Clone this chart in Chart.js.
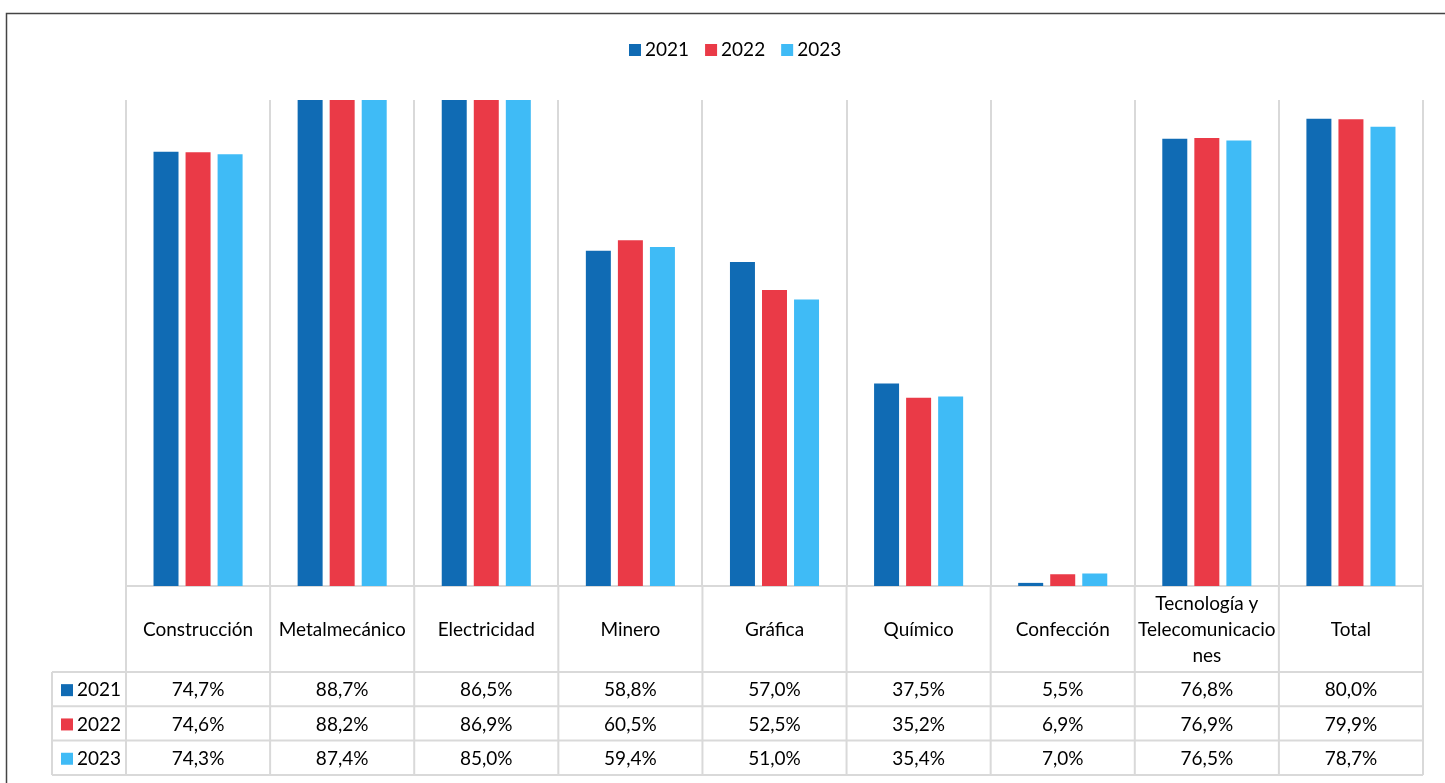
<!DOCTYPE html>
<html>
<head>
<meta charset="utf-8">
<script src="https://cdn.jsdelivr.net/npm/chart.js@4.4.1/dist/chart.umd.min.js"></script>
<style>
  html, body { margin: 0; padding: 0; background: #fff; }
  #wrap { width: 1445px; height: 783px; position: relative; }
</style>
</head>
<body>
<div id="wrap"><canvas id="chart"></canvas></div>
<script>
// data
const categories = ['Construcción', 'Metalmecánico', 'Electricidad', 'Minero', 'Gráfica',
  'Químico', 'Confección', ['Tecnología y', 'Telecomunicacio', 'nes'], 'Total'];
const years = ['2021', '2022', '2023'];
const values2021 = [74.7, 88.7, 86.5, 58.8, 57.0, 37.5, 5.5, 76.8, 80.0];
const values2022 = [74.6, 88.2, 86.9, 60.5, 52.5, 35.2, 6.9, 76.9, 79.9];
const values2023 = [74.3, 87.4, 85.0, 59.4, 51.0, 35.4, 7.0, 76.5, 78.7];
const colors = ['#106BB4', '#EA3A47', '#3FBBF6'];

const FONT = 'Lato, "Open Sans", sans-serif';
const gridColor = '#d9d9d9';

function fmt(v) {
  return v.toFixed(1).replace('.', ',') + '%';
}

// frame, legend and the data table under the bars
const tablePlugin = {
  id: 'dataTable',
  afterDraw(chart) {
    const ctx = chart.ctx;
    const x = chart.scales.x;
    const area = chart.chartArea;
    const n = categories.length;
    const cw = (x.right - x.left) / n;
    const headTop = area.bottom;
    const headBottom = 672;
    const rowH = 34.3;
    const tableBottom = headBottom + rowH * 3;
    const legLeft = 52;

    ctx.save();
    // outer frame
    ctx.strokeStyle = '#444';
    ctx.lineWidth = 1.5;
    ctx.strokeRect(6.5, 13.5, 1460, 800);

    // legend on top
    ctx.font = '19px ' + FONT;
    ctx.textBaseline = 'middle';
    ctx.textAlign = 'left';
    let lx = 629;
    years.forEach((y, i) => {
      ctx.fillStyle = colors[i];
      ctx.fillRect(lx, 44, 12, 12);
      ctx.fillStyle = '#000';
      ctx.fillText(y, lx + 16, 50);
      lx += ctx.measureText(y).width + 16 + 16;
    });

    // table lines
    ctx.strokeStyle = gridColor;
    ctx.lineWidth = 2;
    ctx.beginPath();
    for (let i = 0; i <= n; i++) {
      const gx = x.left + cw * i;
      ctx.moveTo(gx, headTop);
      ctx.lineTo(gx, tableBottom);
    }
    ctx.moveTo(legLeft, headBottom);
    ctx.lineTo(legLeft, tableBottom);
    for (let r = 0; r <= 3; r++) {
      const gy = headBottom + rowH * r;
      ctx.moveTo(legLeft, gy);
      ctx.lineTo(x.right, gy);
    }
    ctx.stroke();

    // category labels
    ctx.fillStyle = '#000';
    ctx.textAlign = 'center';
    ctx.font = '19px ' + FONT;
    const headMid = (headTop + headBottom) / 2 + 1;
    categories.forEach((c, i) => {
      const cx = x.getPixelForValue(i);
      const lines = Array.isArray(c) ? c : [c];
      lines.forEach((t, k) => {
        ctx.fillText(t, cx, headMid + (k - (lines.length - 1) / 2) * 26);
      });
    });

    // values
    ctx.font = '19px ' + FONT;
    const series = [values2021, values2022, values2023];
    series.forEach((vals, r) => {
      const cy = headBottom + rowH * r + rowH / 2 + 1;
      vals.forEach((v, i) => {
        ctx.textAlign = 'center';
        ctx.fillText(fmt(v), x.getPixelForValue(i), cy);
      });
      ctx.fillStyle = colors[r];
      ctx.fillRect(61, cy - 6, 12, 12);
      ctx.fillStyle = '#000';
      ctx.textAlign = 'left';
      ctx.fillText(years[r], 77, cy);
    });
    ctx.restore();
  }
};

new Chart(document.getElementById('chart'), {
  type: 'bar',
  data: {
    labels: categories,
    datasets: [
      { label: years[0], data: values2021, backgroundColor: colors[0] },
      { label: years[1], data: values2022, backgroundColor: colors[1] },
      { label: years[2], data: values2023, backgroundColor: colors[2] }
    ]
  },
  options: {
    responsive: true,
    maintainAspectRatio: false,
    animation: false,
    categoryPercentage: 0.667,
    barPercentage: 0.78,
    layout: { padding: { left: 126, right: 22, top: 100, bottom: 197 } },
    plugins: {
      legend: { display: false },
      tooltip: { enabled: false }
    },
    scales: {
      x: {
        ticks: { display: false },
        grid: { offset: true, color: gridColor, lineWidth: 2, drawTicks: false },
        border: { color: gridColor, width: 2 }
      },
      y: {
        display: false,
        min: 5,
        max: 83
      }
    }
  },
  plugins: [tablePlugin]
});
</script>
</body>
</html>
